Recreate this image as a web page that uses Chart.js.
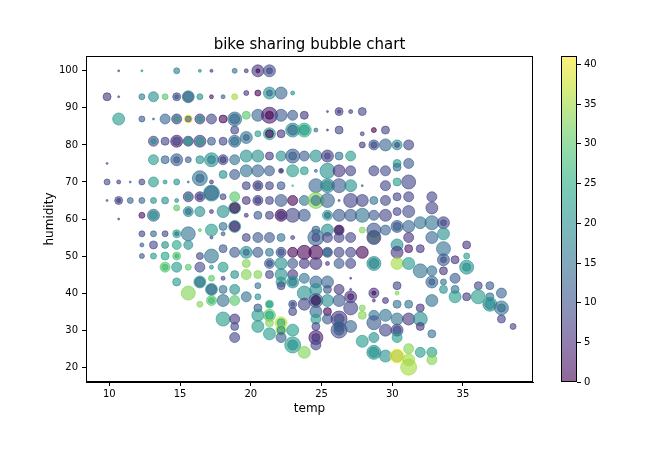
<!DOCTYPE html>
<html><head><meta charset="utf-8">
<script src="https://cdn.jsdelivr.net/npm/chart.js@4/dist/chart.umd.min.js"></script>
<style>html,body{margin:0;padding:0;background:#fff;}canvas{display:block;}</style>
</head><body>
<canvas id="c" width="656" height="457"></canvas>
<script>
// ---- data (one line per temperature column) ----
const temp = [
9.84,9.84,9.84,9.84,
10.66,10.66,10.66,10.66,10.66,10.66,10.66,
11.48,11.48,
12.3,12.3,12.3,12.3,12.3,12.3,12.3,12.3,12.3,
13.12,13.12,13.12,13.12,13.12,13.12,13.12,13.12,13.12,13.12,13.12,13.12,
13.94,13.94,13.94,13.94,13.94,13.94,13.94,13.94,13.94,13.94,13.94,
14.76,14.76,14.76,14.76,14.76,14.76,14.76,14.76,14.76,14.76,14.76,14.76,14.76,14.76,14.76,14.76,14.76,14.76,14.76,
15.58,15.58,15.58,15.58,15.58,15.58,15.58,15.58,15.58,15.58,15.58,15.58,15.58,15.58,15.58,15.58,
16.4,16.4,16.4,16.4,16.4,16.4,16.4,16.4,16.4,16.4,16.4,16.4,16.4,16.4,16.4,16.4,16.4,16.4,
17.22,17.22,17.22,17.22,17.22,17.22,17.22,17.22,17.22,17.22,17.22,17.22,17.22,17.22,17.22,17.22,17.22,17.22,17.22,
18.04,18.04,18.04,18.04,18.04,18.04,18.04,18.04,18.04,18.04,18.04,18.04,18.04,18.04,18.04,18.04,
18.86,18.86,18.86,18.86,18.86,18.86,18.86,18.86,18.86,18.86,18.86,18.86,18.86,18.86,18.86,18.86,18.86,18.86,18.86,18.86,18.86,
19.68,19.68,19.68,19.68,19.68,19.68,19.68,19.68,19.68,19.68,19.68,19.68,19.68,19.68,19.68,19.68,
20.5,20.5,20.5,20.5,20.5,20.5,20.5,20.5,20.5,20.5,20.5,20.5,20.5,20.5,20.5,20.5,20.5,20.5,20.5,20.5,
21.32,21.32,21.32,21.32,21.32,21.32,21.32,21.32,21.32,21.32,21.32,21.32,21.32,21.32,21.32,21.32,21.32,21.32,21.32,21.32,21.32,21.32,21.32,21.32,
22.14,22.14,22.14,22.14,22.14,22.14,22.14,22.14,22.14,22.14,22.14,22.14,22.14,22.14,22.14,22.14,22.14,22.14,22.14,22.14,22.14,22.14,
22.96,22.96,22.96,22.96,22.96,22.96,22.96,22.96,22.96,22.96,22.96,22.96,22.96,22.96,22.96,22.96,22.96,22.96,22.96,22.96,22.96,22.96,
23.78,23.78,23.78,23.78,23.78,23.78,23.78,23.78,23.78,23.78,23.78,23.78,23.78,
24.6,24.6,24.6,24.6,24.6,24.6,24.6,24.6,24.6,24.6,24.6,24.6,24.6,24.6,24.6,24.6,24.6,24.6,24.6,24.6,24.6,24.6,
25.42,25.42,25.42,25.42,25.42,25.42,25.42,25.42,25.42,25.42,25.42,25.42,25.42,25.42,25.42,25.42,25.42,25.42,25.42,25.42,
26.24,26.24,26.24,26.24,26.24,26.24,26.24,26.24,26.24,26.24,26.24,26.24,26.24,26.24,26.24,26.24,26.24,26.24,26.24,26.24,
27.06,27.06,27.06,27.06,27.06,27.06,27.06,27.06,27.06,27.06,27.06,27.06,27.06,27.06,27.06,
27.88,27.88,27.88,27.88,27.88,27.88,27.88,27.88,27.88,27.88,27.88,
28.7,28.7,28.7,28.7,28.7,28.7,28.7,28.7,28.7,28.7,28.7,28.7,28.7,28.7,28.7,28.7,28.7,28.7,28.7,
29.52,29.52,29.52,29.52,29.52,29.52,29.52,29.52,29.52,29.52,29.52,
30.34,30.34,30.34,30.34,30.34,30.34,30.34,30.34,30.34,30.34,30.34,30.34,30.34,30.34,30.34,30.34,30.34,30.34,30.34,30.34,30.34,
31.16,31.16,31.16,31.16,31.16,31.16,31.16,31.16,31.16,31.16,31.16,31.16,31.16,31.16,
31.98,31.98,31.98,31.98,31.98,31.98,31.98,
32.8,32.8,32.8,32.8,32.8,32.8,32.8,32.8,32.8,32.8,32.8,
33.62,33.62,33.62,33.62,33.62,33.62,33.62,33.62,33.62,
34.44,34.44,34.44,34.44,
35.26,35.26,35.26,35.26,35.26,
36.08,36.08,
36.9,36.9,36.9,36.9,
37.72,37.72,37.72,37.72,
38.54
];
const humidity = [
93,75,70,65,
100,93,87,70,65,65,60,
70,65,
100,93,87,70,65,61,56,53,50,
93,87,81,81,76,70,65,61,61,56,53,50,
93,87,81,76,70,65,56,53,50,47,47,
100,93,93,87,87,81,81,76,76,70,65,63,56,56,53,50,50,47,43,
93,93,87,87,81,81,76,70,66,66,62,62,56,53,47,40,
100,93,87,87,81,81,76,71,71,66,66,62,57,50,47,43,43,37,
100,93,87,81,76,76,70,67,67,62,57,55,50,47,44,41,41,38,38,
93,87,81,76,76,72,66,62,58,56,52,47,44,41,38,33,
100,93,87,87,84,81,81,76,72,66,63,63,58,58,51,45,41,38,33,31,28,
100,94,88,82,82,77,73,69,65,61,55,51,51,48,45,39,
100,100,94,88,83,77,73,69,69,65,65,61,55,51,45,42,39,36,34,31,
100,100,94,94,88,88,83,83,77,73,69,65,61,55,51,48,48,45,37,37,34,34,32,29,
94,88,83,77,73,73,69,65,61,61,55,51,51,48,45,43,42,32,32,30,30,28,
94,88,84,84,77,77,73,69,65,61,55,51,48,45,43,43,37,37,35,30,26,26,
88,84,84,77,73,65,61,51,48,44,40,37,24,
84,77,73,69,65,65,57,55,55,51,48,43,41,38,38,38,35,33,31,28,28,26,
89,84,77,77,73,69,69,65,61,61,57,55,51,51,48,43,41,38,35,33,
89,89,84,77,73,69,65,61,57,57,55,51,48,41,38,33,33,31,30,30,
89,77,73,69,65,61,55,51,48,44,41,39,39,36,31,
89,83,80,69,65,61,57,51,36,34,27,
84,80,80,73,65,61,57,55,55,48,48,40,40,38,34,32,28,24,24,
84,80,73,69,65,61,57,38,34,30,23,
80,80,75,74,70,66,62,58,58,53,51,48,42,40,37,33,30,30,28,23,23,
80,75,70,66,62,58,55,52,48,37,33,25,22,20,
59,52,46,36,33,31,24,
66,63,59,55,46,43,43,38,29,24,22,
59,59,56,52,49,49,46,43,41,
49,44,41,39,
53,50,47,47,39,
42,39,
42,39,37,37,
40,36,36,33,
31
];
const windspeed = [
6,11,9,9,
9,9,22,7,9,6,9,
13,13,
20,17,11,8,13,2,8,11,11,
20,11,8,20,22,22,20,13,22,13,9,22,
30,13,8,13,20,20,8,20,24,30,28,
17,9,11,6,22,3,9,11,13,20,20,30,24,13,24,30,26,22,22,
11,15,41,11,6,22,11,13,6,22,20,13,15,20,30,33,
20,20,6,22,6,22,20,15,13,6,9,20,30,8,9,24,13,33,
6,2,8,11,20,17,6,20,13,6,22,8,15,20,30,20,13,30,28,
11,0,8,9,7,20,8,20,15,11,11,22,8,15,15,22,
15,35,15,13,8,20,13,15,11,30,22,0,20,3,11,20,20,30,6,9,8,
6,6,30,15,13,20,15,8,6,6,8,20,13,33,33,15,
6,0,0,13,22,20,13,6,11,6,8,11,11,11,33,15,20,11,22,22,
9,8,20,13,3,0,22,0,6,11,8,8,8,11,15,13,9,8,28,22,30,24,33,22,
13,11,6,20,8,6,11,11,0,6,15,9,11,20,20,22,8,37,24,35,20,11,
20,11,20,13,11,13,22,30,0,8,8,0,11,6,20,17,11,9,8,22,22,20,
6,26,22,11,22,15,11,0,6,15,20,8,33,
13,20,13,13,33,15,13,13,9,0,6,13,20,11,20,0,13,22,8,3,6,8,
6,6,6,9,20,26,17,13,22,13,20,8,11,13,6,13,11,20,0,11,
8,6,8,15,6,11,6,11,15,0,8,8,11,6,11,6,9,20,9,11,
7,22,8,20,8,11,8,8,8,6,6,6,3,8,13,
8,8,6,13,8,15,33,0,33,33,22,
0,11,9,8,15,11,11,28,6,15,20,6,0,6,15,11,20,22,20,
8,13,9,8,8,8,13,6,15,8,20,
20,8,22,15,22,8,8,13,11,20,6,35,8,33,15,15,11,8,22,22,41,
8,11,8,8,9,13,6,3,22,15,6,33,35,35,
15,6,15,6,20,6,22,
8,8,15,13,15,11,13,15,15,22,33,
11,8,20,15,9,11,6,15,20,
6,11,15,22,
6,22,22,20,6,
8,22,
11,15,17,20,
13,13,15,8,
8
];
const count = [
64,4,36,4,
4,4,144,16,64,16,4,
4,36,
4,36,36,36,36,36,36,16,25,
100,4,100,25,100,100,36,144,64,36,64,36,
36,100,64,64,16,49,36,49,64,100,36,
36,64,16,100,36,144,64,144,36,36,16,36,64,16,81,64,16,100,64,
100,144,64,36,100,64,36,4,100,36,100,36,196,81,36,196,
9,36,100,36,144,64,64,225,64,100,36,100,9,49,100,144,100,36,
9,16,100,64,196,64,16,256,196,16,144,9,196,16,36,144,100,100,36,
16,64,64,100,36,64,36,144,64,16,64,100,16,64,144,196,
25,36,196,100,64,64,144,100,100,100,144,100,144,100,100,64,100,100,100,64,100,
16,25,64,144,36,144,144,64,64,16,64,144,36,64,100,100,
144,16,36,144,36,144,144,100,36,100,36,64,100,100,64,36,36,64,144,144,
144,36,144,36,256,64,144,64,64,100,64,64,64,100,64,100,36,64,64,36,144,64,64,144,
144,144,64,100,25,9,64,144,144,64,64,100,36,144,144,100,64,144,64,100,64,100,
16,100,196,100,196,64,144,4,100,196,16,100,100,100,144,64,64,16,64,144,256,100,
64,196,100,100,64,100,144,196,100,100,196,144,144,
16,144,9,196,256,100,64,256,64,196,144,144,144,196,64,100,144,100,64,196,64,100,
4,4,144,36,225,100,196,196,100,36,144,100,100,64,16,144,64,144,64,100,
64,9,64,64,144,196,4,144,64,100,100,100,100,100,144,256,100,100,256,100,
16,100,100,144,196,144,100,100,100,4,4,144,36,196,144,
64,16,36,4,144,196,36,144,36,64,144,
25,100,36,100,64,100,196,144,196,100,196,100,16,9,100,196,100,100,196,
64,144,100,100,100,144,100,36,144,144,144,
100,25,64,64,64,64,64,64,144,144,144,144,64,16,64,144,64,144,100,144,196,
100,100,196,100,144,144,100,64,144,64,144,100,144,256,
144,64,196,64,196,64,100,
100,144,196,144,100,36,144,144,64,100,100,
36,144,144,196,36,144,64,36,64,
64,100,64,144,
64,36,64,196,64,
64,196,
64,64,100,196,
100,64,196,64,
36
];
const xTicks = [10, 15, 20, 25, 30, 35];
const yTicks = [20, 30, 40, 50, 60, 70, 80, 90, 100];
const cbTicks = [0, 5, 10, 15, 20, 25, 30, 35, 40];
const cbMax = 40.9973;
const ALPHA = 0.6;

// ---- viridis colormap ----
const VIR = [[68,1,84],[72,36,117],[65,68,135],[53,95,141],[42,120,142],[33,145,140],[34,168,132],[68,191,112],[122,209,81],[189,223,38],[253,231,37]];
function viridis(t, a) {
  t = Math.max(0, Math.min(1, t));
  const p = t * (VIR.length - 1), i = Math.min(Math.floor(p), VIR.length - 2), f = p - i;
  const c = VIR[i].map((v, k) => Math.round(v + (VIR[i + 1][k] - v) * f));
  return `rgba(${c[0]},${c[1]},${c[2]},${a})`;
}

const n = Math.min(temp.length, humidity.length, windspeed.length, count.length);
const pts = [], cols = [];
for (let i = 0; i < n; i++) {
  pts.push({x: temp[i], y: humidity[i], r: Math.sqrt(count[i]) / 2});
  cols.push(viridis(windspeed[i] / cbMax, ALPHA));
}

const frameAndColorbar = {
  id: 'frameAndColorbar',
  afterDraw(chart) {
    const {ctx, chartArea: a} = chart;
    ctx.save();
    ctx.strokeStyle = '#000';
    ctx.lineWidth = 1;
    ctx.strokeRect(a.left + 0.5, a.top + 0.5, a.right - a.left - 1, a.bottom - a.top - 1);
    // colorbar
    const x0 = 561, x1 = 577, top = a.top, bot = a.bottom;
    const g = ctx.createLinearGradient(0, bot, 0, top);
    for (let k = 0; k <= 20; k++) g.addColorStop(k / 20, viridis(k / 20, ALPHA));
    ctx.fillStyle = g;
    ctx.fillRect(x0, top, x1 - x0, bot - top);
    ctx.strokeRect(x0 + 0.5, top + 0.5, x1 - x0 - 1, bot - top - 1);
    ctx.fillStyle = '#000';
    ctx.font = '10px "DejaVu Sans"';
    ctx.textAlign = 'left';
    ctx.textBaseline = 'middle';
    cbTicks.forEach(v => {
      const y = Math.round(bot - (v / cbMax) * (bot - top)) + 0.5;
      ctx.beginPath(); ctx.moveTo(x1, y); ctx.lineTo(x1 + 4, y); ctx.stroke();
      ctx.fillText(String(v), x1 + 7, y);
    });
    ctx.restore();
  }
};

Chart.defaults.font.family = '"DejaVu Sans", sans-serif';
Chart.defaults.color = '#000';

new Chart(document.getElementById('c'), {
  type: 'bubble',
  data: {datasets: [{
    data: pts,
    backgroundColor: cols,
    borderColor: cols,
    borderWidth: 1,
    hoverRadius: 0
  }]},
  options: {
    responsive: false,
    devicePixelRatio: 1,
    animation: false,
    layout: {padding: {left: 0, right: 123, top: 0, bottom: 0}},
    plugins: {
      legend: {display: false},
      tooltip: {enabled: false},
      title: {display: true, text: 'bike sharing bubble chart', fullSize: false,
        font: {size: 15, weight: 'normal'}, color: '#000', padding: {top: 36, bottom: 2}}
    },
    scales: {
      x: {
        type: 'linear', min: 8.35, max: 39.95,
        afterBuildTicks: s => { s.ticks = xTicks.map(v => ({value: v})); },
        afterFit: s => { s.height = 75; },
        grid: {drawOnChartArea: false, drawTicks: true, tickLength: 4, color: '#000'},
        border: {display: true, color: '#000'},
        ticks: {color: '#000', font: {size: 10}, padding: 2, maxRotation: 0, autoSkip: false},
        title: {display: true, text: 'temp', color: '#000', font: {size: 12}, padding: {top: 4, bottom: 41}}
      },
      y: {
        type: 'linear', min: 16, max: 104,
        afterBuildTicks: s => { s.ticks = yTicks.map(v => ({value: v})); },
        afterFit: s => { s.width = 86; },
        grid: {drawOnChartArea: false, drawTicks: true, tickLength: 4, color: '#000'},
        border: {display: true, color: '#000'},
        ticks: {color: '#000', font: {size: 10}, padding: 4, autoSkip: false},
        title: {display: true, text: 'humidity', color: '#000', font: {size: 12}, padding: {top: 43, bottom: 4}}
      }
    }
  },
  plugins: [frameAndColorbar]
});
</script>
</body></html>
